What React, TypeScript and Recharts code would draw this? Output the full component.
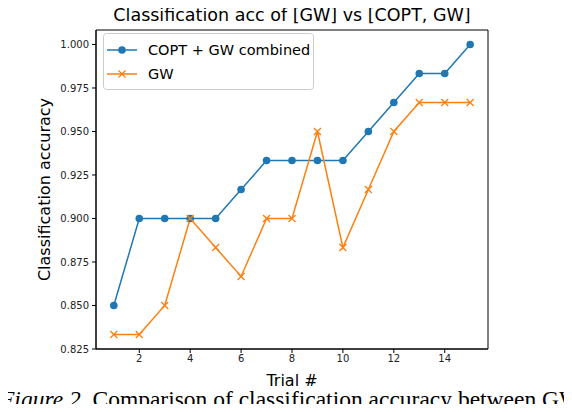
import React from "react";
import { LineChart, Line, XAxis, YAxis, ReferenceArea, Label } from "recharts";

const trials = [1, 2, 3, 4, 5, 6, 7, 8, 9, 10, 11, 12, 13, 14, 15];
const combinedAcc = [0.85, 0.9, 0.9, 0.9, 0.9, 0.9167, 0.9333, 0.9333, 0.9333, 0.9333, 0.95, 0.9667, 0.9833, 0.9833, 1.0];
const gwAcc = [0.8333, 0.8333, 0.85, 0.9, 0.8833, 0.8667, 0.9, 0.9, 0.95, 0.8833, 0.9167, 0.95, 0.9667, 0.9667, 0.9667];
const xTicks = [2, 4, 6, 8, 10, 12, 14];
const yTicks = [0.825, 0.85, 0.875, 0.9, 0.925, 0.95, 0.975, 1.0];

const BLUE = "#1f77b4";
const ORANGE = "#ff7f0e";
const FONT = "'DejaVu Sans', sans-serif";

const data = trials.map((t, i) => ({ trial: t, combined: combinedAcc[i], gw: gwAcc[i] }));

const XDot = (props: any) => {
  const { cx, cy, index } = props;
  const s = 3.5;
  return (
    <path
      key={`x-${index}`}
      d={`M${cx - s},${cy - s}L${cx + s},${cy + s}M${cx - s},${cy + s}L${cx + s},${cy - s}`}
      stroke={ORANGE}
      strokeWidth={1.3}
      fill="none"
    />
  );
};

const LegendBox = () => (
  <svg width={211} height={57} style={{ display: "block" }}>
    <rect x={0.5} y={0.5} width={210} height={56} rx={3} fill="#fff" fillOpacity={0.8} stroke="#cccccc" />
    <line x1={4} y1={17} x2={34} y2={17} stroke={BLUE} strokeWidth={1.5} />
    <circle cx={19} cy={17} r={3.8} fill={BLUE} />
    <text x={45} y={22} fontSize={14.5} fontFamily={FONT} fill="#000">COPT + GW combined</text>
    <line x1={4} y1={41} x2={34} y2={41} stroke={ORANGE} strokeWidth={1.5} />
    <path d="M15.5,37.5L22.5,44.5M15.5,44.5L22.5,37.5" stroke={ORANGE} strokeWidth={1.3} />
    <text x={45} y={46} fontSize={14.5} fontFamily={FONT} fill="#000">GW</text>
  </svg>
);

export default function App() {
  return (
    <div style={{ position: "relative", width: 572, height: 412, margin: -8, background: "#fff", overflow: "hidden" }}>
      <div
        style={{
          position: "absolute",
          top: 4,
          left: 91,
          width: 402,
          textAlign: "center",
          fontFamily: FONT,
          fontSize: 17.5,
          lineHeight: "22px",
          color: "#000",
          whiteSpace: "nowrap",
        }}
      >
        Classification acc of [GW] vs [COPT, GW]
      </div>
      <LineChart width={572} height={412} data={data} margin={{ top: 30, right: 84, bottom: 33, left: 0 }}>
        <XAxis
          dataKey="trial"
          type="number"
          domain={[0.3, 15.7]}
          ticks={xTicks}
          height={30}
          tickSize={4}
          tickMargin={2}
          stroke="#000"
          tick={{ fontSize: 10, fontFamily: FONT, fill: "#222" }}
          allowDataOverflow
        >
          <Label
            content={({ viewBox }: any) => (
              <text
                x={viewBox.x + viewBox.width / 2}
                y={viewBox.y + 37}
                textAnchor="middle"
                fontSize={16}
                fontFamily={FONT}
                fill="#000"
              >
                Trial #
              </text>
            )}
          />
        </XAxis>
        <YAxis
          type="number"
          domain={[0.825, 1.00833]}
          ticks={yTicks}
          width={96}
          tickSize={4}
          tickMargin={3}
          stroke="#000"
          tick={{ fontSize: 10, fontFamily: FONT, fill: "#222" }}
          tickFormatter={(v: number) => v.toFixed(3)}
          allowDataOverflow
        >
          <Label
            content={({ viewBox }: any) => {
              const cy = viewBox.y + viewBox.height / 2;
              return (
                <text
                  x={50}
                  y={cy}
                  transform={`rotate(-90 50 ${cy})`}
                  textAnchor="middle"
                  fontSize={16}
                  fontFamily={FONT}
                  fill="#000"
                >
                  Classification accuracy
                </text>
              );
            }}
          />
        </YAxis>
        <ReferenceArea x1={0.3} x2={15.7} y1={0.825} y2={1.00833} fill="none" stroke="#000" strokeWidth={1} />
        <Line
          dataKey="combined"
          name="COPT + GW combined"
          stroke={BLUE}
          strokeWidth={1.5}
          dot={{ r: 3.8, fill: BLUE, stroke: BLUE, strokeWidth: 0 }}
          isAnimationActive={false}
        />
        <Line
          dataKey="gw"
          name="GW"
          stroke={ORANGE}
          strokeWidth={1.5}
          dot={XDot}
          isAnimationActive={false}
        />
      </LineChart>
      <div style={{ position: "absolute", top: 33, left: 103 }}>
        <LegendBox />
      </div>
      <div
        style={{
          position: "absolute",
          top: 386,
          left: 0,
          fontFamily: "'Liberation Serif', serif",
          fontSize: 23.5,
          color: "#000",
          whiteSpace: "nowrap",
          lineHeight: "26px",
        }}
      >
        <i>Figure 2.</i> Comparison of classification accuracy between GW
      </div>
    </div>
  );
}
